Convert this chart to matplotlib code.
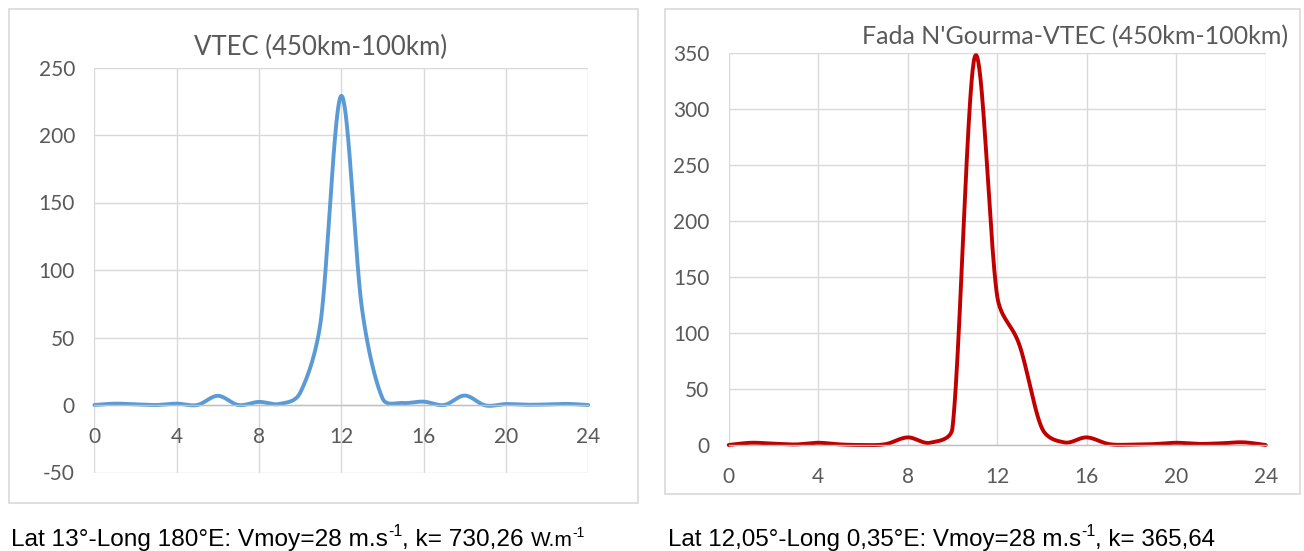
import numpy as np
import matplotlib
matplotlib.use("Agg")
import matplotlib.pyplot as plt
from matplotlib.patches import Rectangle

plt.rcParams["axes.unicode_minus"] = False

# Hourly VTEC values (local time 0..24 h)
hours = list(range(25))
vtec_lat13 = [0, 1, 0.5, 0, 1, 0, 6.8, 0, 2.3, 0.8, 9, 62, 229, 72, 5,
              1.5, 2.5, 0, 7, -0.3, 0.7, 0.2, 0.4, 0.8, 0]
vtec_fada = [0, 2, 1.2, 0.5, 2, 0.5, 0, 0.7, 6.8, 2, 15, 347, 133, 89, 15,
             2.3, 6.8, 0.8, 0.3, 0.8, 2, 1, 1.5, 2.4, 0]

xticks = [0, 4, 8, 12, 16, 20, 24]
yticks_left = [-50, 0, 50, 100, 150, 200, 250]
yticks_right = [0, 50, 100, 150, 200, 250, 300, 350]

title_left = "VTEC (450km-100km)"
title_right = "Fada N'Gourma-VTEC (450km-100km)"
# caption pieces: (text, fontsize, raise in points)
caption_left = [("Lat 13°-Long 180°E: Vmoy=28 m.s", 17.6, 0), ("-1", 11.5, 7),
                (", k= 730,26 ", 17.6, 0), ("W.m", 15, 0), ("-1", 10, 6.5)]
caption_right = [("Lat 12,05°-Long 0,35°E: Vmoy=28 m.s", 17.4, 0), ("-1", 11.5, 7),
                 (", k= 365,64", 17.4, 0)]

W, H = 1304, 551
TICK_FONT = "Lato"
GRID = "#d9d9d9"
TXT = "#595959"


def smooth(ax, x, y, n=40, k=0.45):
    """Bezier smoothing through every point, built in display space so that
    handles stay short next to short segments."""
    pts = ax.transData.transform(np.column_stack([x, y]).astype(float))
    p = np.vstack([pts[0], pts, pts[-1]])
    t = np.linspace(0, 1, n)[:, None]
    out = []
    for i in range(1, len(p) - 2):
        p0, p1, p2, p3 = p[i - 1], p[i], p[i + 1], p[i + 2]
        seg = np.linalg.norm(p2 - p1)
        h1 = (p2 - p0) / 6
        h2 = (p3 - p1) / 6
        l1, l2 = np.linalg.norm(h1), np.linalg.norm(h2)
        if l1 > k * seg:
            h1 = h1 * (k * seg / l1)
        if l2 > k * seg:
            h2 = h2 * (k * seg / l2)
        c1 = p1 + h1
        c2 = p2 - h2
        b = ((1 - t) ** 3) * p1 + 3 * ((1 - t) ** 2) * t * c1 + 3 * (1 - t) * t ** 2 * c2 + t ** 3 * p2
        out.append(b)
    out = np.vstack(out)
    data = ax.transData.inverted().transform(out)
    return data[:, 0], data[:, 1]


def px_axes(fig, x0, y0, x1, y1):
    return fig.add_axes([x0 / W, 1 - y1 / H, (x1 - x0) / W, (y1 - y0) / H])


def style_axes(ax, yticks, ylim):
    ax.set_xlim(0, 24)
    ax.set_ylim(*ylim)
    ax.set_xticks(xticks)
    ax.set_yticks(yticks)
    for s in ["top", "right", "left"]:
        ax.spines[s].set_visible(False)
    ax.spines["bottom"].set_position(("data", 0))
    ax.spines["bottom"].set_color("#bfbfbf")
    ax.spines["bottom"].set_linewidth(1.0)
    ax.grid(True, color=GRID, linewidth=1.0)
    ax.set_axisbelow(True)
    ax.tick_params(axis="both", length=0, labelcolor=TXT, labelsize=15)
    ax.tick_params(axis="x", pad=16)
    ax.tick_params(axis="y", pad=14)
    for lab in ax.get_xticklabels() + ax.get_yticklabels():
        lab.set_fontfamily(TICK_FONT)
    ax.set_facecolor("none")


def caption(fig, x, y, pieces):
    fig.canvas.draw()
    r = fig.canvas.get_renderer()
    cx = x
    for text, size, rise in pieces:
        t = fig.text(cx / W, (H - y + rise * 100 / 72) / H, text, ha="left", va="baseline",
                     fontsize=size, color="black", family="Liberation Sans")
        cx = t.get_window_extent(r).x1


fig = plt.figure(figsize=(W / 100, H / 100), dpi=100)

# chart frames
for (x0, y0, x1, y1) in [(9, 9, 638, 503), (665, 9, 1300, 494)]:
    fig.patches.append(Rectangle((x0 / W, 1 - y1 / H), (x1 - x0) / W, (y1 - y0) / H,
                                 transform=fig.transFigure, fill=False,
                                 edgecolor=GRID, linewidth=1.2))

# left chart
axL = px_axes(fig, 94.4, 67.5, 588.2, 472.5)
style_axes(axL, yticks_left, (-50, 250))
sx, sy = smooth(axL, hours, vtec_lat13)
axL.plot(sx, sy, color="#5B9BD5", linewidth=2.8, solid_capstyle="round", clip_on=False)
fig.text(321 / W, 1 - 47 / H, title_left, ha="center", va="center",
         fontsize=18.5, color=TXT, family=TICK_FONT)

# right chart
axR = px_axes(fig, 728.7, 53.3, 1265.7, 445)
style_axes(axR, yticks_right, (0, 350))
sx, sy = smooth(axR, hours, vtec_fada)
axR.plot(sx, sy, color="#C00000", linewidth=2.8, solid_capstyle="round", clip_on=False)
fig.text(1288 / W, 1 - 37 / H, title_right, ha="right", va="center",
         fontsize=18, color=TXT, family=TICK_FONT)

# captions under each chart
caption(fig, 11, 546, caption_left)
caption(fig, 668, 546, caption_right)

fig.savefig("out.png", dpi=100)
